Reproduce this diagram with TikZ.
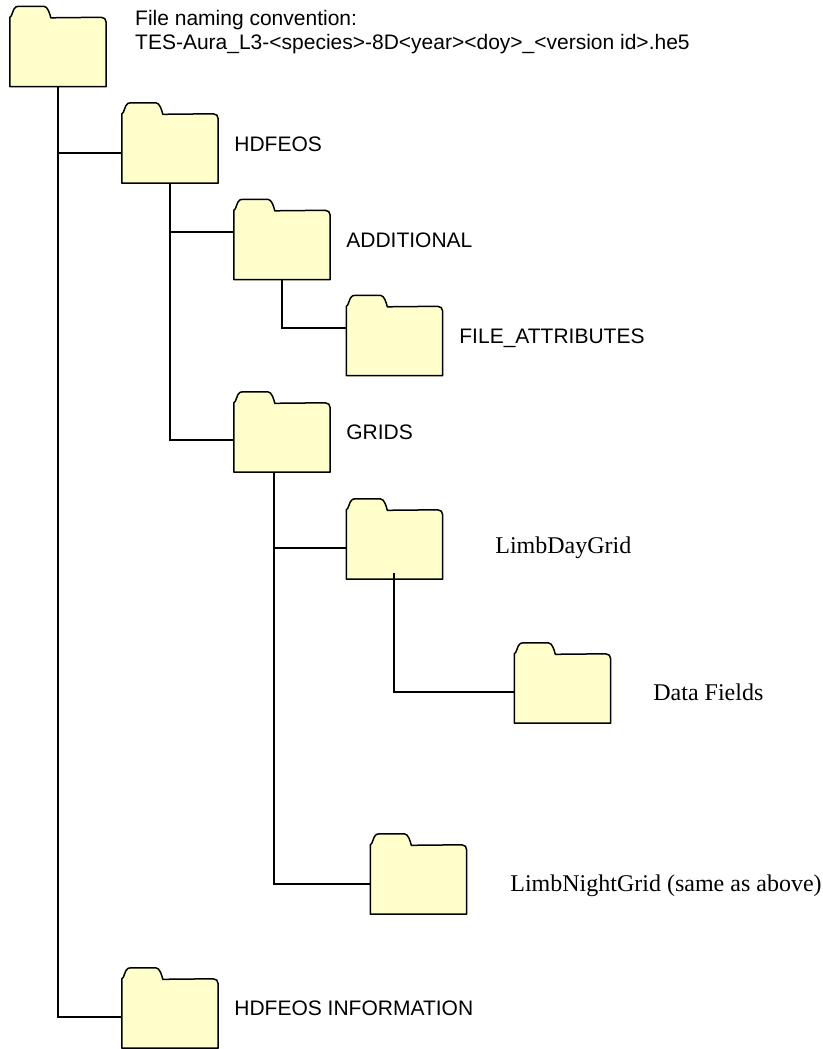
\documentclass[tikz,border=0pt]{standalone}
\usepackage{fontspec}
\setmainfont{Liberation Serif}
\setsansfont{Liberation Sans}
\usepackage{xcolor}
\usepackage{tikz}
\usetikzlibrary{positioning}
\definecolor{folderfill}{HTML}{FFFFCC}

\begin{document}
\begin{tikzpicture}[x=1pt,y=-1pt]
	\tikzset{folder/.style={rectangle,inner sep=0pt,minimum width=96pt,minimum height=69pt,
			append after command={\pgfextra{\edef\foldername{\tikzlastnode}
				\draw[fill=folderfill,line width=1.5pt,line join=round]
				(\foldername.south west) -- (\foldername.north west)
				-- ++(1.5pt,1.5pt) -- ++(2.5pt,6.5pt) .. controls +(1pt,2.5pt) and +(-2pt,0pt) .. ++(5pt,3pt)
				-- ++(25pt,0pt) .. controls +(4pt,0pt) and +(-1pt,4pt) .. ++(7pt,-11.5pt)
				-- ([xshift=-5pt,yshift=0pt]\foldername.north east)
				.. controls +(3pt,0pt) and +(0pt,3pt) .. ([yshift=-5pt]\foldername.north east)
				-- (\foldername.south east) -- cycle;}}},
		branch/.style={line width=1.5pt,line join=miter},
		sanslabel/.style={font=\sffamily\fontsize{21}{24.5}\selectfont,inner sep=0pt,align=left},
		seriflabel/.style={font=\fontsize{24}{26}\selectfont,inner sep=0pt}}
	\useasboundingbox (0,0) rectangle (822,1049);

\node[folder] (root) at (58,52) {};
\node[folder] (hdfeos) at (170,148.5) {};
\node[folder] (additional) at (282,245) {};
\node[folder] (fileattr) at (394.5,341) {};
\node[folder] (grids) at (282,437.5) {};
\node[folder] (dayfolder) at (394.5,544.5) {};
\node[folder] (datafolder) at (562.5,688.5) {};
\node[folder] (nightfolder) at (418.5,879.5) {};
\node[folder] (info) at (170,1013.5) {};

\node[sanslabel,anchor=west] (rootlabel) at (135,32) {File naming convention:\\TES-Aura\_L3-<species>-8D<year><doy>\_<version id>.he5};
\node[sanslabel] (hdfeoslabel) [right = 16pt of hdfeos, yshift=4pt] {HDFEOS};
\node[sanslabel] (additionallabel) [right = 16pt of additional, yshift=4.5pt] {ADDITIONAL};
\node[sanslabel] (fileattrlabel) [right = 16.5pt of fileattr, yshift=3pt] {FILE\_ATTRIBUTES};
\node[sanslabel] (gridslabel) [right = 16pt of grids, yshift=5pt] {GRIDS};
\node[seriflabel] (daylabel) [right = 52.5pt of dayfolder, yshift=-3.5pt] {LimbDayGrid};
\node[seriflabel] (datalabel) [right = 42.5pt of datafolder, yshift=-4pt] {Data Fields};
\node[seriflabel] (nightlabel) [right = 43.5pt of nightfolder, yshift=-6.5pt] {LimbNightGrid (same as above)};
\node[sanslabel] (infolabel) [right = 16pt of info, yshift=5pt] {HDFEOS INFORMATION};

\coordinate (daystem) at (394,573);

\draw[branch] (root.south) |- ([yshift=-4.5pt]hdfeos.west);
\draw[branch] (root.south) |- ([yshift=-3.5pt]info.west);
\draw[branch] (hdfeos.south) |- ([yshift=13pt]additional.west);
\draw[branch] (hdfeos.south) |- ([yshift=-2.5pt]grids.west);
\draw[branch] (additional.south) |- ([yshift=13pt]fileattr.west);
\draw[branch] ([xshift=-8pt]grids.south) |- ([yshift=-3.5pt]dayfolder.west);
\draw[branch] ([xshift=-8pt]grids.south) |- ([yshift=-4.5pt]nightfolder.west);
\draw[branch] (daystem) |- ([yshift=-3.5pt]datafolder.west);
\end{tikzpicture}
\end{document}
